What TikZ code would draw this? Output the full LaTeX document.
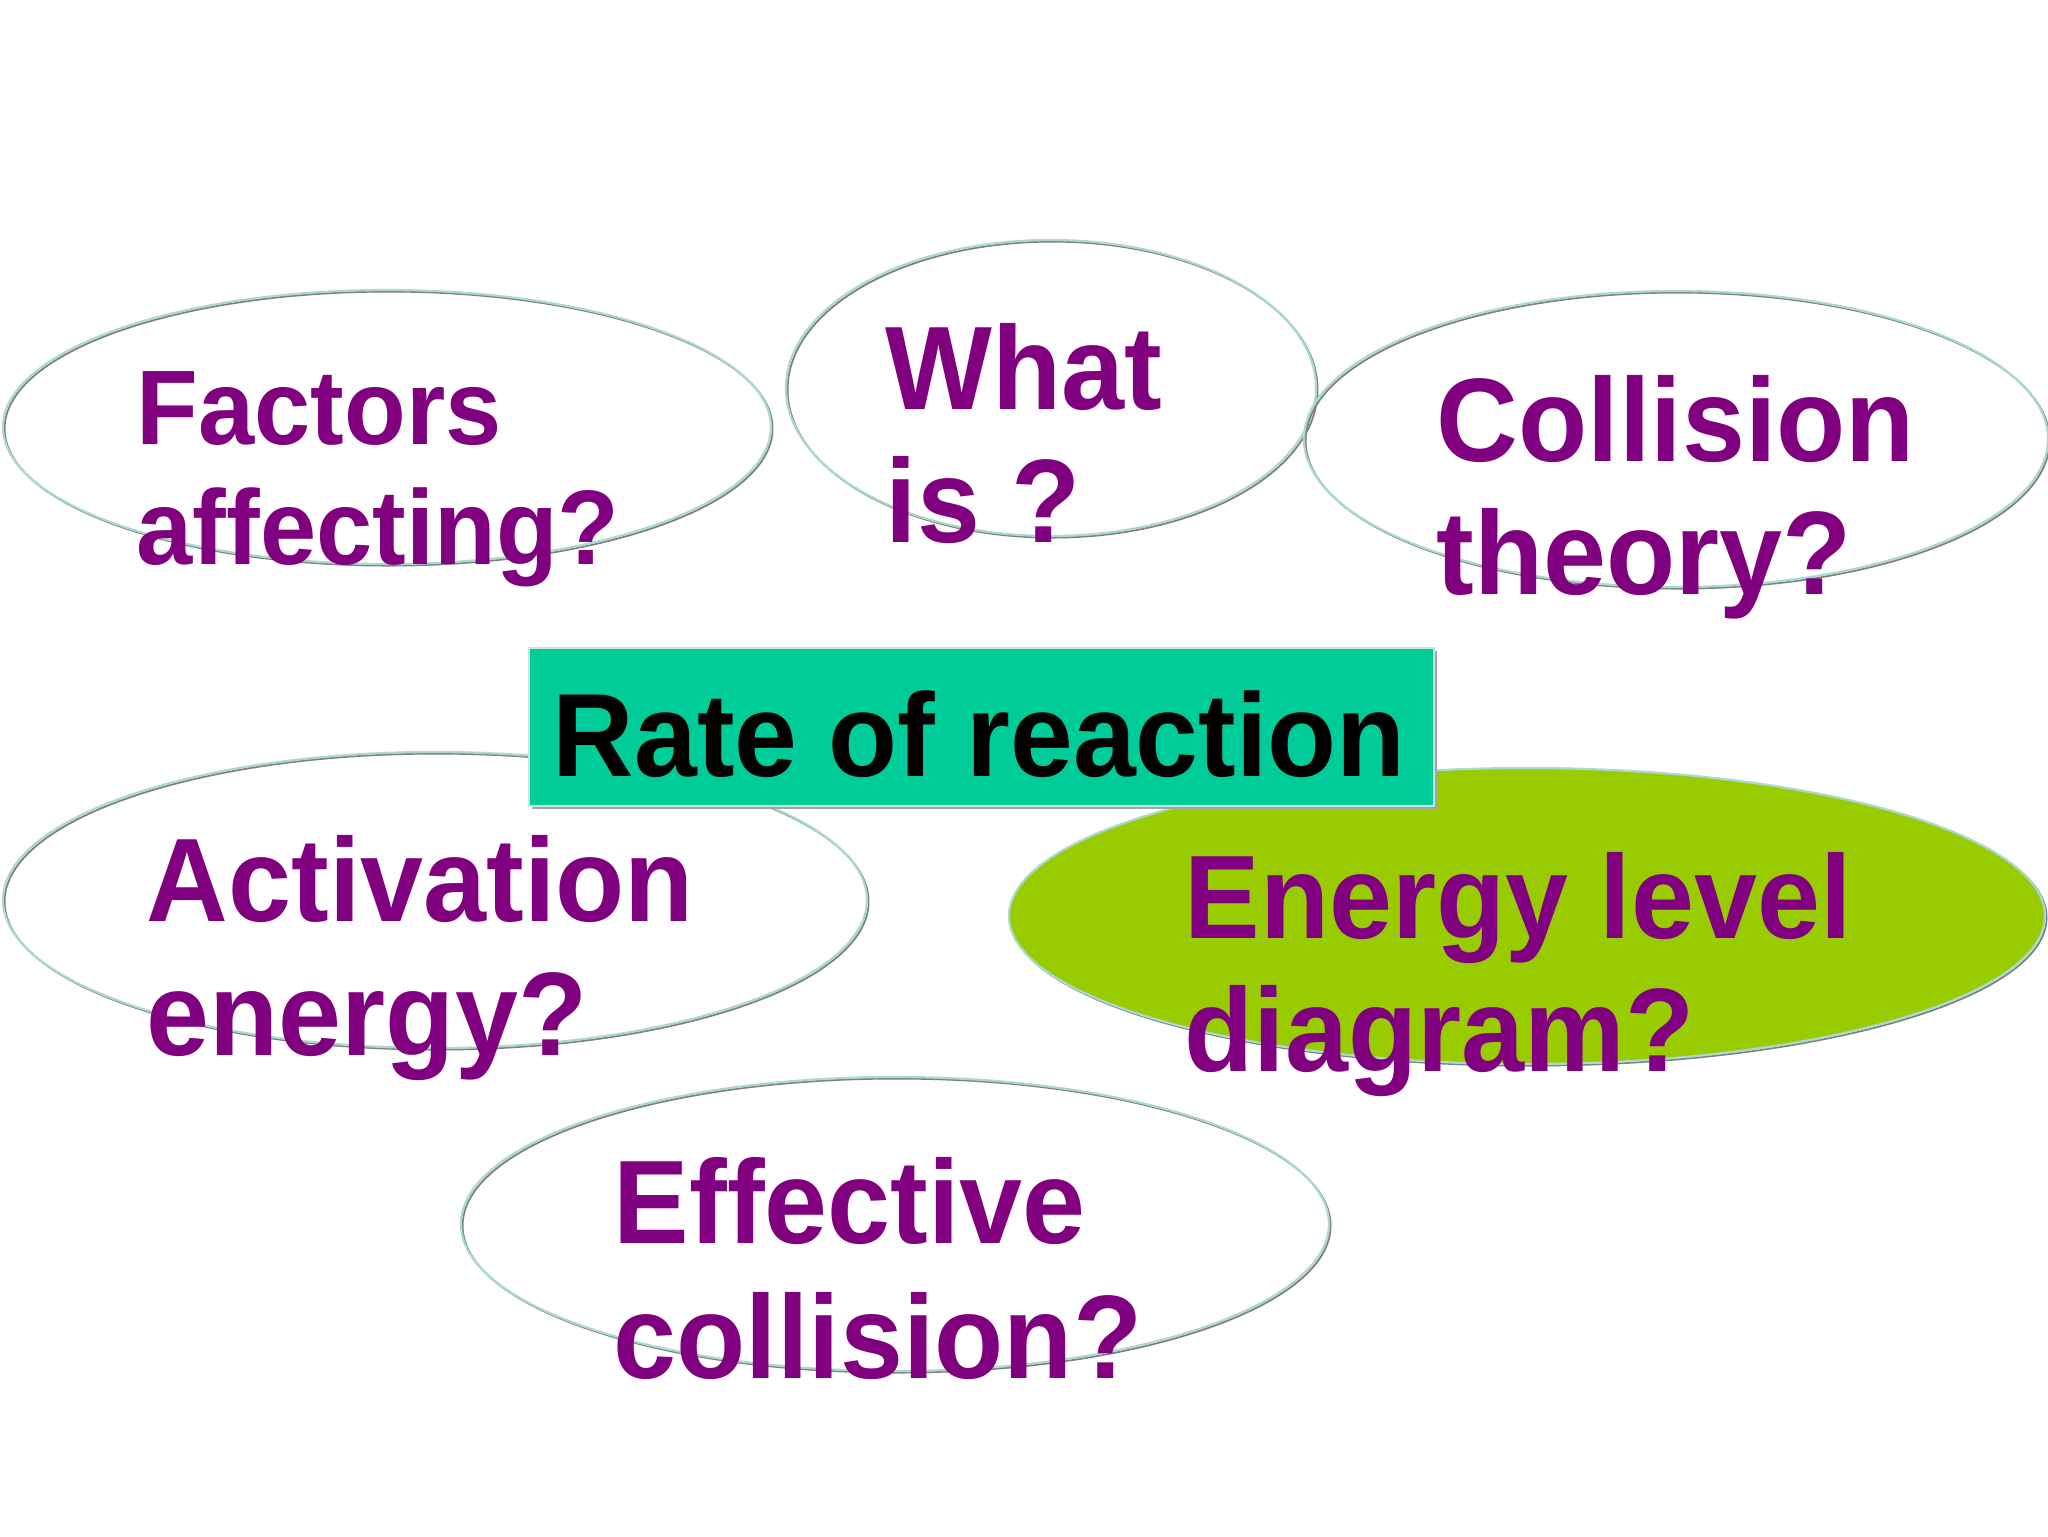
\documentclass[tikz,border=0pt]{standalone}
\usepackage{fontspec}
\setmainfont{Liberation Sans}[FakeStretch=0.953]
\usetikzlibrary{shapes.geometric}
\definecolor{txtpurple}{HTML}{800080}
\definecolor{rimteal}{HTML}{A9D9D1}
\definecolor{rimgray}{HTML}{7F7F7F}
\definecolor{boxteal}{HTML}{00CC99}
\definecolor{boxrim}{HTML}{C4E8DF}
\definecolor{leafgreen}{HTML}{99CC00}
\begin{document}
\begin{tikzpicture}[x=0.25pt,y=-0.25pt,
  bubble/.style={ellipse, inner sep=0pt, draw=rimteal, line width=0.55pt,
    preaction={draw=rimgray, line width=0.45pt, transform canvas={shift={(0.4pt,-0.4pt)}}}},
  qtext/.style={anchor=base west, inner sep=0pt, text=txtpurple,
    font=\bfseries\fontsize{29.7}{33.5}\selectfont},
  smalltext/.style={qtext, font=\bfseries\fontsize{26.5}{30}\selectfont},
  titlebox/.style={rectangle, inner sep=0pt, fill=boxteal, draw=boxrim, line width=0.4pt,
    preaction={fill=rimgray!70, transform canvas={shift={(0.8pt,-0.8pt)}}}},
]
\useasboundingbox (0,0) rectangle (2048,1536);
\fill[white] (0,0) rectangle (2048,1536);

% ellipses
\node[bubble, minimum width=192pt, minimum height=68.5pt] (factors) at (387,427) {};
\node[bubble, minimum width=132.5pt, minimum height=74pt] (whatis) at (1051,388) {};
\node[bubble, minimum width=186pt, minimum height=74pt] (collision) at (1676,439) {};
\node[bubble, minimum width=216pt, minimum height=74pt] (activation) at (435,900) {};
\node[bubble, fill=leafgreen, minimum width=259pt, minimum height=74pt] (energy) at (1527,916) {};
\node[bubble, minimum width=217pt, minimum height=73.5pt] (effective) at (895,1224) {};

% central box
\node[titlebox, minimum width=226.25pt, minimum height=39.5pt] (rate) at (981.5,727) {};
\node[anchor=base west, inner sep=0pt, font=\bfseries\fontsize{29.6}{33}\selectfont] (ratetext) at (552,776) {Rate of reaction};

% texts
\node[smalltext] (f1) at (136,444) {Factors};
\node[smalltext] (f2) at (136,564) {affecting?};
\node[qtext] (w1) at (885,409) {What};
\node[qtext] (w2) at (885,542) {is ?};
\node[qtext] (c1) at (1436,461) {Collision};
\node[qtext] (c2) at (1436,594) {theory?};
\node[qtext] (a1) at (146,921) {Activation};
\node[qtext] (a2) at (146,1055) {energy?};
\node[qtext] (e1) at (1184,938) {Energy level};
\node[qtext] (e2) at (1184,1071) {diagram?};
\node[qtext] (x1) at (613,1243) {Effective};
\node[qtext] (x2) at (613,1378) {collision?};
\end{tikzpicture}
\end{document}
